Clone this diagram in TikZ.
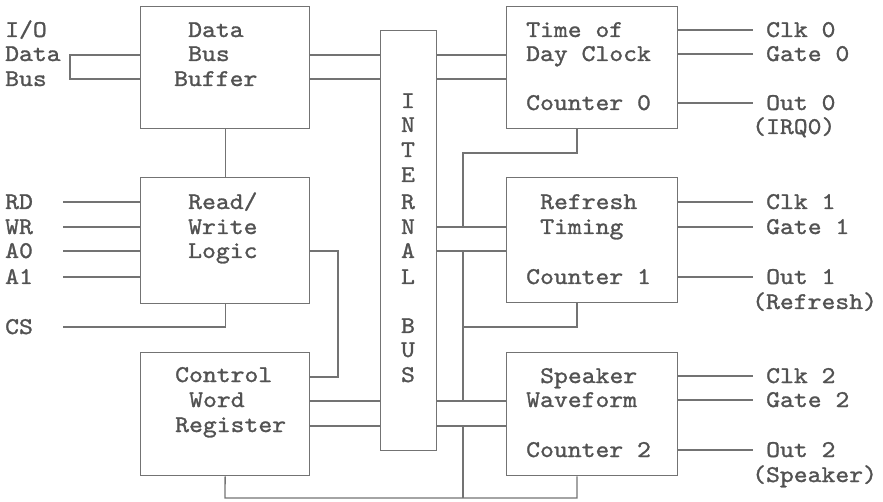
\documentclass[tikz,border=0pt]{standalone}
\usepackage{fontspec}
\newfontfamily\tw{lmmono10-regular.otf}[FakeStretch=1.1,FakeBold=1.2]
\definecolor{ink}{gray}{0.32}
\definecolor{wire}{gray}{0.45}
\tikzset{
  blk/.style={draw=wire, line width=1.3bp, rectangle, anchor=north west, inner sep=0pt},
  lbl/.style={anchor=base west, inner sep=0pt, text=ink, font=\tw\fontsize{24bp}{26bp}\selectfont},
  buslbl/.style={lbl, anchor=base},
  wr/.style={draw=wire, line width=1.3bp}
}
\begin{document}
\begin{tikzpicture}[x=1bp,y=-1bp]
\useasboundingbox (0,0) rectangle (883,502);

% blocks
\node[blk, minimum width=169bp, minimum height=122bp] (dbb) at (140,6) {};
\node[blk, minimum width=169bp, minimum height=126bp] (rwl) at (140,177) {};
\node[blk, minimum width=169bp, minimum height=123bp] (cwr) at (140,352) {};
\node[blk, minimum width=56bp,  minimum height=420bp] (bus) at (380,30) {};
\node[blk, minimum width=171bp, minimum height=122bp] (tod) at (506,6) {};
\node[blk, minimum width=171bp, minimum height=125bp] (rft) at (506,177) {};
\node[blk, minimum width=171bp, minimum height=123bp] (spk) at (506,352) {};

% block texts
\node[lbl] (dbbA) at (188,37) {Data};
\node[lbl] (dbbB) at (188,61) {Bus};
\node[lbl] (dbbC) at (174,86) {Buffer};
\node[lbl] (rwlA) at (188,209) {Read/};
\node[lbl] (rwlB) at (188,234) {Write};
\node[lbl] (rwlC) at (188,258) {Logic};
\node[lbl] (cwrA) at (175,382) {Control};
\node[lbl] (cwrB) at (189,407) {Word};
\node[lbl] (cwrC) at (175,432) {Register};
\node[lbl] (todA) at (526,37) {Time of};
\node[lbl] (todB) at (526,61) {Day Clock};
\node[lbl] (todC) at (526,110) {Counter 0};
\node[lbl] (rftA) at (540,209) {Refresh};
\node[lbl] (rftB) at (540,234) {Timing};
\node[lbl] (rftC) at (526,284) {Counter 1};
\node[lbl] (spkA) at (540,383) {Speaker};
\node[lbl] (spkB) at (526,407) {Waveform};
\node[lbl] (spkC) at (526,457) {Counter 2};

% vertical lettering of the internal bus
\node[buslbl] (b1) at (408,108) {I};
\node[buslbl] (b2) at (408,132) {N};
\node[buslbl] (b3) at (408,157) {T};
\node[buslbl] (b4) at (408,182) {E};
\node[buslbl] (b5) at (408,209) {R};
\node[buslbl] (b6) at (408,234) {N};
\node[buslbl] (b7) at (408,258) {A};
\node[buslbl] (b8) at (408,284) {L};
\node[buslbl] (b9) at (408,333) {B};
\node[buslbl] (b10) at (408,357) {U};
\node[buslbl] (b11) at (408,382) {S};

% left-hand signal names
\node[lbl] (lIO) at (5,37) {I/O};
\node[lbl] (lData) at (5,61) {Data};
\node[lbl] (lBus) at (5,86) {Bus};
\node[lbl] (lRD) at (5,209) {RD};
\node[lbl] (lWR) at (5,234) {WR};
\node[lbl] (lA0) at (5,258) {A0};
\node[lbl] (lA1) at (5,284) {A1};
\node[lbl] (lCS) at (5,334) {CS};

% right-hand signal names
\node[lbl] (rC0) at (766,37) {Clk 0};
\node[lbl] (rG0) at (766,61) {Gate 0};
\node[lbl] (rO0) at (766,110) {Out 0};
\node[lbl] (rI0) at (752,134) {(IRQ0)};
\node[lbl] (rC1) at (766,209) {Clk 1};
\node[lbl] (rG1) at (766,234) {Gate 1};
\node[lbl] (rO1) at (766,284) {Out 1};
\node[lbl] (rI1) at (752,309) {(Refresh)};
\node[lbl] (rC2) at (766,383) {Clk 2};
\node[lbl] (rG2) at (766,407) {Gate 2};
\node[lbl] (rO2) at (766,457) {Out 2};
\node[lbl] (rI2) at (752,482) {(Speaker)};

% wire end points and bends
\coordinate (ioA) at (70,55);
\coordinate (ioB) at (70,79);
\coordinate (pRD) at (63,202);
\coordinate (pWR) at (63,227);
\coordinate (pA0) at (63,251);
\coordinate (pA1) at (63,277);
\coordinate (pCS) at (63,327);
\coordinate (jA) at (338,251);
\coordinate (jB) at (338,377);
\coordinate (y227) at (0,227);
\coordinate (y251) at (0,251);
\coordinate (y401) at (0,401);
\coordinate (y426) at (0,426);
\coordinate (c0) at (577,153);
\coordinate (c1) at (577,327);
\coordinate (c2) at (577,498);
\coordinate (k0) at (463,153);
\coordinate (k1) at (463,327);
\coordinate (k2) at (225,498);
\coordinate (qC0) at (753,30);
\coordinate (qG0) at (753,54);
\coordinate (qO0) at (753,103);
\coordinate (qC1) at (753,202);
\coordinate (qG1) at (753,227);
\coordinate (qO1) at (753,277);
\coordinate (qC2) at (753,376);
\coordinate (qG2) at (753,400);
\coordinate (qO2) at (753,450);

% I/O data bus into the buffer
\draw[wr] (dbb.west |- ioA) -- (ioA) -- (ioB) -- (dbb.west |- ioB);
% buffer <-> internal bus <-> time of day clock
\draw[wr] (dbb.east |- ioA) -- (bus.west |- ioA);
\draw[wr] (dbb.east |- ioB) -- (bus.west |- ioB);
\draw[wr] (bus.east |- ioA) -- (tod.west |- ioA);
\draw[wr] (bus.east |- ioB) -- (tod.west |- ioB);
% buffer to read/write logic
\draw[wr] (dbb.south) -- (rwl.north);
% control inputs
\draw[wr] (pRD) -- (rwl.west |- pRD);
\draw[wr] (pWR) -- (rwl.west |- pWR);
\draw[wr] (pA0) -- (rwl.west |- pA0);
\draw[wr] (pA1) -- (rwl.west |- pA1);
\draw[wr] (pCS) -- (rwl.south |- pCS) -- (rwl.south);
% read/write logic to control word register
\draw[wr] (rwl.east |- jA) -- (jA) -- (jB) -- (cwr.east |- jB);
% control word register <-> internal bus <-> speaker waveform
\draw[wr] (cwr.east |- y401) -- (bus.west |- y401);
\draw[wr] (cwr.east |- y426) -- (bus.west |- y426);
\draw[wr] (bus.east |- y401) -- (spk.west |- y401);
\draw[wr] (bus.east |- y426) -- (spk.west |- y426);
% internal bus <-> refresh timing
\draw[wr] (bus.east |- y227) -- (rft.west |- y227);
\draw[wr] (bus.east |- y251) -- (rft.west |- y251);
% counter outputs looped back
\draw[wr] (tod.south -| c0) -- (c0) -- (k0) -- (k0 |- y227);
\draw[wr] (rft.south -| c1) -- (c1) -- (k1);
\draw[wr] (k0 |- y251) -- (k0 |- y401);
\draw[wr] (spk.south -| c2) -- (c2) -- (k2) -- (cwr.south);
\draw[wr] (k0 |- y426) -- (k0 |- c2);
% counter pins
\draw[wr] (tod.east |- qC0) -- (qC0);
\draw[wr] (tod.east |- qG0) -- (qG0);
\draw[wr] (tod.east |- qO0) -- (qO0);
\draw[wr] (rft.east |- qC1) -- (qC1);
\draw[wr] (rft.east |- qG1) -- (qG1);
\draw[wr] (rft.east |- qO1) -- (qO1);
\draw[wr] (spk.east |- qC2) -- (qC2);
\draw[wr] (spk.east |- qG2) -- (qG2);
\draw[wr] (spk.east |- qO2) -- (qO2);
\end{tikzpicture}
\end{document}
